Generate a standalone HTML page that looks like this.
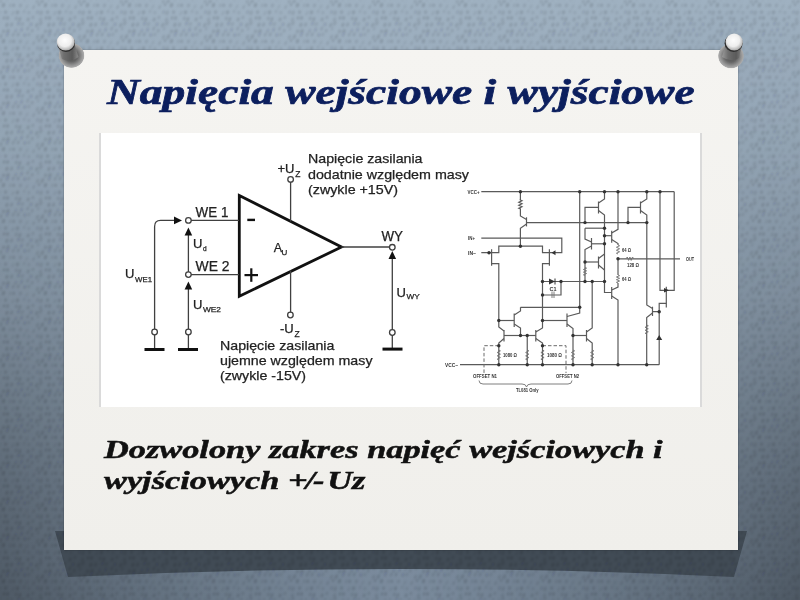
<!DOCTYPE html>
<html><head><meta charset="utf-8">
<style>
html,body{margin:0;padding:0;width:800px;height:600px;overflow:hidden;}
body{position:relative;background:linear-gradient(to bottom,rgb(159,177,193),rgb(122,139,157));font-family:"Liberation Sans",sans-serif;}
.abs{position:absolute;}
#shadow{left:0;top:0;}
#paper{left:64px;top:50px;width:674px;height:500px;background:linear-gradient(to bottom,#f5f4f1,#f0efeb);box-shadow:0 0 1.5px rgba(0,0,0,0.4);}
#img{left:99px;top:133px;width:603px;height:274px;background:#fff;box-sizing:border-box;border-left:2px solid #dadada;border-right:2px solid #dadada;}
#title{left:107px;top:73px;font-family:"Liberation Serif",serif;font-weight:bold;font-style:italic;font-size:35px;color:#0c1f5e;-webkit-text-stroke:0.7px #0c1f5e;white-space:nowrap;transform:scaleX(1.3);transform-origin:0 0;}
#body{left:104px;top:434px;font-family:"Liberation Serif",serif;font-weight:bold;font-style:italic;font-size:26px;line-height:31px;color:#111;-webkit-text-stroke:0.5px #111;white-space:nowrap;transform:scaleX(1.32);transform-origin:0 0;}
#dg{left:0;top:0;filter:blur(0.5px);}
</style></head><body>
<div class="abs" style="left:0;top:0;width:800px;height:600px;background:linear-gradient(to right,rgba(0,0,0,0.36) 0px,rgba(0,0,0,0.248) 100px,rgba(0,0,0,0.146) 200px,rgba(0,0,0,0.059) 300px,rgba(0,0,0,0) 400px,rgba(0,0,0,0.059) 500px,rgba(0,0,0,0.146) 600px,rgba(0,0,0,0.248) 700px,rgba(0,0,0,0.36) 800px);-webkit-mask-image:linear-gradient(to bottom,rgba(0,0,0,0) 0px,rgba(0,0,0,0.08) 150px,rgba(0,0,0,0.31) 300px,rgba(0,0,0,0.7) 450px,#000 600px);"></div>
<svg class="abs" id="shadow" width="800" height="600"><path d="M55,531 L747,531 L734,577 Q400,561 68,577 Z" fill="#414b55"/></svg>
<svg class="abs" style="left:0;top:0" width="800" height="600"><defs><pattern id="dp" width="42" height="36" patternUnits="userSpaceOnUse"><g fill="#0a1420"><ellipse cx="0.4" cy="0.7" rx="1.5" ry="2.6" transform="rotate(25 0.4 0.7)" fill-opacity="0.12"/><ellipse cx="0.4" cy="36.7" rx="1.5" ry="2.6" transform="rotate(25 0.4 36.7)" fill-opacity="0.12"/><ellipse cx="42.4" cy="0.7" rx="1.5" ry="2.6" transform="rotate(25 42.4 0.7)" fill-opacity="0.12"/><ellipse cx="42.4" cy="36.7" rx="1.5" ry="2.6" transform="rotate(25 42.4 36.7)" fill-opacity="0.12"/><ellipse cx="7.3" cy="-1.4" rx="1.3" ry="2.6" transform="rotate(25 7.3 -1.4)" fill-opacity="0.11"/><ellipse cx="7.3" cy="34.6" rx="1.3" ry="2.6" transform="rotate(25 7.3 34.6)" fill-opacity="0.11"/><ellipse cx="13.2" cy="-1.2" rx="1.3" ry="2.0" transform="rotate(25 13.2 -1.2)" fill-opacity="0.10"/><ellipse cx="13.2" cy="34.8" rx="1.3" ry="2.0" transform="rotate(25 13.2 34.8)" fill-opacity="0.10"/><ellipse cx="18.2" cy="-1.5" rx="1.1" ry="2.0" transform="rotate(25 18.2 -1.5)" fill-opacity="0.13"/><ellipse cx="18.2" cy="34.5" rx="1.1" ry="2.0" transform="rotate(25 18.2 34.5)" fill-opacity="0.13"/><ellipse cx="24.8" cy="-1.0" rx="1.5" ry="1.9" transform="rotate(25 24.8 -1.0)" fill-opacity="0.11"/><ellipse cx="24.8" cy="35.0" rx="1.5" ry="1.9" transform="rotate(25 24.8 35.0)" fill-opacity="0.11"/><ellipse cx="28.9" cy="-1.5" rx="1.5" ry="2.0" transform="rotate(25 28.9 -1.5)" fill-opacity="0.08"/><ellipse cx="28.9" cy="34.5" rx="1.5" ry="2.0" transform="rotate(25 28.9 34.5)" fill-opacity="0.08"/><ellipse cx="37.4" cy="1.1" rx="1.2" ry="2.6" transform="rotate(25 37.4 1.1)" fill-opacity="0.10"/><ellipse cx="37.4" cy="37.1" rx="1.2" ry="2.6" transform="rotate(25 37.4 37.1)" fill-opacity="0.10"/><ellipse cx="3.5" cy="5.1" rx="1.6" ry="2.4" transform="rotate(25 3.5 5.1)" fill-opacity="0.14"/><ellipse cx="45.5" cy="5.1" rx="1.6" ry="2.4" transform="rotate(25 45.5 5.1)" fill-opacity="0.14"/><ellipse cx="10.2" cy="5.4" rx="1.2" ry="1.9" transform="rotate(25 10.2 5.4)" fill-opacity="0.08"/><ellipse cx="13.7" cy="5.4" rx="1.4" ry="1.8" transform="rotate(25 13.7 5.4)" fill-opacity="0.12"/><ellipse cx="20.5" cy="5.4" rx="1.5" ry="2.2" transform="rotate(25 20.5 5.4)" fill-opacity="0.09"/><ellipse cx="26.9" cy="6.6" rx="1.0" ry="2.6" transform="rotate(25 26.9 6.6)" fill-opacity="0.07"/><ellipse cx="33.7" cy="7.0" rx="1.0" ry="2.4" transform="rotate(25 33.7 7.0)" fill-opacity="0.10"/><ellipse cx="39.2" cy="4.5" rx="1.0" ry="1.9" transform="rotate(25 39.2 4.5)" fill-opacity="0.14"/><ellipse cx="-2.8" cy="4.5" rx="1.0" ry="1.9" transform="rotate(25 -2.8 4.5)" fill-opacity="0.14"/><ellipse cx="-0.9" cy="12.8" rx="1.6" ry="2.6" transform="rotate(25 -0.9 12.8)" fill-opacity="0.09"/><ellipse cx="41.1" cy="12.8" rx="1.6" ry="2.6" transform="rotate(25 41.1 12.8)" fill-opacity="0.09"/><ellipse cx="5.6" cy="12.1" rx="1.5" ry="1.9" transform="rotate(25 5.6 12.1)" fill-opacity="0.12"/><ellipse cx="12.9" cy="13.1" rx="1.0" ry="2.6" transform="rotate(25 12.9 13.1)" fill-opacity="0.08"/><ellipse cx="17.5" cy="12.3" rx="1.6" ry="2.1" transform="rotate(25 17.5 12.3)" fill-opacity="0.13"/><ellipse cx="24.1" cy="11.4" rx="1.2" ry="1.9" transform="rotate(25 24.1 11.4)" fill-opacity="0.08"/><ellipse cx="28.9" cy="12.6" rx="1.6" ry="1.9" transform="rotate(25 28.9 12.6)" fill-opacity="0.07"/><ellipse cx="37.5" cy="12.1" rx="1.2" ry="2.0" transform="rotate(25 37.5 12.1)" fill-opacity="0.11"/><ellipse cx="4.0" cy="17.9" rx="1.3" ry="1.8" transform="rotate(25 4.0 17.9)" fill-opacity="0.13"/><ellipse cx="46.0" cy="17.9" rx="1.3" ry="1.8" transform="rotate(25 46.0 17.9)" fill-opacity="0.13"/><ellipse cx="7.6" cy="18.0" rx="1.5" ry="1.9" transform="rotate(25 7.6 18.0)" fill-opacity="0.12"/><ellipse cx="16.3" cy="18.4" rx="1.5" ry="1.9" transform="rotate(25 16.3 18.4)" fill-opacity="0.10"/><ellipse cx="19.9" cy="19.0" rx="1.2" ry="2.2" transform="rotate(25 19.9 19.0)" fill-opacity="0.14"/><ellipse cx="28.1" cy="19.4" rx="1.3" ry="2.2" transform="rotate(25 28.1 19.4)" fill-opacity="0.12"/><ellipse cx="32.9" cy="17.4" rx="1.2" ry="1.9" transform="rotate(25 32.9 17.4)" fill-opacity="0.10"/><ellipse cx="40.5" cy="19.4" rx="1.4" ry="2.2" transform="rotate(25 40.5 19.4)" fill-opacity="0.09"/><ellipse cx="-1.5" cy="19.4" rx="1.4" ry="2.2" transform="rotate(25 -1.5 19.4)" fill-opacity="0.09"/><ellipse cx="-1.2" cy="23.3" rx="1.5" ry="2.5" transform="rotate(25 -1.2 23.3)" fill-opacity="0.10"/><ellipse cx="40.8" cy="23.3" rx="1.5" ry="2.5" transform="rotate(25 40.8 23.3)" fill-opacity="0.10"/><ellipse cx="6.9" cy="24.8" rx="1.4" ry="2.3" transform="rotate(25 6.9 24.8)" fill-opacity="0.13"/><ellipse cx="11.6" cy="24.6" rx="1.2" ry="2.2" transform="rotate(25 11.6 24.6)" fill-opacity="0.13"/><ellipse cx="18.6" cy="23.4" rx="1.6" ry="2.3" transform="rotate(25 18.6 23.4)" fill-opacity="0.11"/><ellipse cx="22.5" cy="24.1" rx="1.2" ry="2.3" transform="rotate(25 22.5 24.1)" fill-opacity="0.10"/><ellipse cx="31.0" cy="24.4" rx="1.5" ry="2.1" transform="rotate(25 31.0 24.4)" fill-opacity="0.11"/><ellipse cx="36.7" cy="25.0" rx="1.2" ry="2.5" transform="rotate(25 36.7 25.0)" fill-opacity="0.13"/><ellipse cx="3.6" cy="31.4" rx="1.6" ry="2.2" transform="rotate(25 3.6 31.4)" fill-opacity="0.10"/><ellipse cx="45.6" cy="31.4" rx="1.6" ry="2.2" transform="rotate(25 45.6 31.4)" fill-opacity="0.10"/><ellipse cx="8.0" cy="31.0" rx="1.6" ry="2.2" transform="rotate(25 8.0 31.0)" fill-opacity="0.12"/><ellipse cx="15.7" cy="30.7" rx="1.1" ry="2.4" transform="rotate(25 15.7 30.7)" fill-opacity="0.11"/><ellipse cx="21.5" cy="29.8" rx="1.4" ry="2.4" transform="rotate(25 21.5 29.8)" fill-opacity="0.11"/><ellipse cx="27.7" cy="28.6" rx="1.1" ry="2.2" transform="rotate(25 27.7 28.6)" fill-opacity="0.12"/><ellipse cx="32.2" cy="30.6" rx="1.4" ry="1.8" transform="rotate(25 32.2 30.6)" fill-opacity="0.10"/><ellipse cx="38.2" cy="28.7" rx="1.1" ry="2.1" transform="rotate(25 38.2 28.7)" fill-opacity="0.08"/><ellipse cx="-3.8" cy="28.7" rx="1.1" ry="2.1" transform="rotate(25 -3.8 28.7)" fill-opacity="0.08"/></g></pattern><filter id="dpb" x="0" y="0" width="100%" height="100%"><feGaussianBlur stdDeviation="1"/></filter></defs><rect width="800" height="600" fill="url(#dp)" filter="url(#dpb)"/></svg>
<div class="abs" id="paper"></div>
<div class="abs" id="img"></div>
<svg class="abs" style="left:0;top:0" width="800" height="600">
<defs>
<radialGradient id="pb" cx="0.5" cy="0.5" r="0.5"><stop offset="0" stop-color="#4a4a4a"/><stop offset="0.5" stop-color="#666"/><stop offset="0.8" stop-color="#959595"/><stop offset="0.95" stop-color="#aaa"/><stop offset="1" stop-color="#aaa" stop-opacity="0.2"/></radialGradient>
<linearGradient id="pc" x1="0" y1="0" x2="1" y2="0"><stop offset="0" stop-color="#9a9a9a"/><stop offset="0.3" stop-color="#6e6e6e"/><stop offset="0.7" stop-color="#5a5a5a"/><stop offset="1" stop-color="#8a8a8a"/></linearGradient>
<radialGradient id="ph" cx="0.45" cy="0.4" r="0.6"><stop offset="0" stop-color="#fdfdfd"/><stop offset="0.6" stop-color="#eee"/><stop offset="1" stop-color="#aaa"/></radialGradient>
<filter id="pbl" x="-20%" y="-20%" width="140%" height="140%"><feGaussianBlur stdDeviation="0.6"/></filter>
<filter id="pbl2" x="-30%" y="-30%" width="160%" height="160%"><feGaussianBlur stdDeviation="0.5"/></filter>
</defs>
<g filter="url(#pbl)">
 <ellipse cx="71.5" cy="55.5" rx="13" ry="12.5" fill="url(#pb)" filter="url(#pbl2)"/>
 <path d="M57.5,44 L74.5,44 L78.5,57 Q71,63 62,59 Z" fill="url(#pc)"/>
 <ellipse cx="66" cy="43.2" rx="9" ry="8.7" fill="#2f2f2f"/>
 <ellipse cx="65.7" cy="42" rx="9" ry="8.6" fill="url(#ph)"/>
</g>
<g filter="url(#pbl)">
 <ellipse cx="731" cy="56" rx="13" ry="12.5" fill="url(#pb)" filter="url(#pbl2)"/>
 <path d="M725.5,44 L742.5,44 L739,58 Q731,63 722,57 Z" fill="url(#pc)"/>
 <ellipse cx="733.6" cy="43.2" rx="9" ry="8.7" fill="#2f2f2f"/>
 <ellipse cx="734.2" cy="42" rx="8.6" ry="8.6" fill="url(#ph)"/>
</g>
</svg>
<div class="abs" id="title">Napięcia wejściowe i wyjściowe</div>
<div class="abs" id="body">Dozwolony zakres napięć wejściowych i<br>wyjściowych <span style="letter-spacing:-1.5px">+/-</span><span style="margin-left:-3px"> Uz</span></div>
<svg class="abs" id="dg" width="800" height="600" viewBox="0 0 800 600">
<g fill="none" stroke="#404040" stroke-width="1.3">
 <!-- triangle -->
 <path d="M239.3,195.5 L341.5,247 L239.3,296.3 Z" stroke="#111" stroke-width="2.8" stroke-linejoin="miter"/>
 <!-- inputs -->
 <path d="M191,220.4 H239"/>
 <path d="M191,274.6 H239"/>
 <circle cx="188.4" cy="220.4" r="2.8"/>
 <circle cx="188.4" cy="274.6" r="2.8"/>
 <!-- UWE1 loop -->
 <path d="M154.6,329 V226.4 Q154.6,220.4 160.6,220.4 H176"/>
 <circle cx="154.6" cy="332" r="2.8"/>
 <path d="M154.6,334.6 V349"/>
 <!-- Ud -->
 <path d="M188.4,272 V234"/>
 <!-- UWE2 -->
 <path d="M188.4,329 V288"/>
 <circle cx="188.4" cy="332" r="2.8"/>
 <path d="M188.4,334.6 V349"/>
 <!-- supply -->
 <path d="M290.6,182 V221.5"/>
 <circle cx="290.6" cy="179.4" r="2.8"/>
 <path d="M290.6,270.5 V312.4"/>
 <circle cx="290.4" cy="315" r="2.8"/>
 <!-- output -->
 <path d="M341.5,247 H389.7"/>
 <circle cx="392.3" cy="247.3" r="2.8"/>
 <path d="M392.3,329.9 V258"/>
 <circle cx="392.3" cy="332.5" r="2.8"/>
 <path d="M392.3,335 V349"/>
</g>
<g fill="#111" stroke="none">
 <path d="M174,216.6 L182,220.4 L174,224.2 Z"/>
 <path d="M184.6,235.5 L188.4,227.5 L192.2,235.5 Z"/>
 <path d="M184.6,289.5 L188.4,281.5 L192.2,289.5 Z"/>
 <path d="M388.5,259 L392.3,251 L396.1,259 Z"/>
 <rect x="144.5" y="348" width="20" height="3"/>
 <rect x="178" y="348" width="20" height="3"/>
 <rect x="382.5" y="347.6" width="20" height="3"/>
 <rect x="247.3" y="218.7" width="7.7" height="2.4"/>
 <rect x="244.5" y="274" width="13.5" height="2.2"/>
 <rect x="250.2" y="268.3" width="2.2" height="13.5"/>
</g>
<g fill="#222" stroke="#222" stroke-width="0.25" font-family="Liberation Sans" font-size="13">
 <text x="308" y="162.5" textLength="114.5" lengthAdjust="spacingAndGlyphs">Napięcie zasilania</text>
 <text x="308" y="178.5" textLength="161" lengthAdjust="spacingAndGlyphs">dodatnie względem masy</text>
 <text x="308" y="194.4" textLength="90" lengthAdjust="spacingAndGlyphs">(zwykle +15V)</text>
 <text x="220" y="349.6" textLength="114.4" lengthAdjust="spacingAndGlyphs">Napięcie zasilania</text>
 <text x="220" y="365" textLength="152.5" lengthAdjust="spacingAndGlyphs">ujemne względem masy</text>
 <text x="220" y="380" textLength="86" lengthAdjust="spacingAndGlyphs">(zwykle -15V)</text>
 <text x="195.6" y="217" font-size="14" textLength="32.8" lengthAdjust="spacingAndGlyphs">WE 1</text>
 <text x="195.6" y="271.2" font-size="14" textLength="34" lengthAdjust="spacingAndGlyphs">WE 2</text>
 <text x="381.5" y="241.2" font-size="14" textLength="21.5" lengthAdjust="spacingAndGlyphs">WY</text>
 <text x="277.5" y="173" font-size="13">+U</text>
 <text x="295.3" y="176.5" font-size="8.5">Z</text>
 <text x="280" y="332.6" font-size="13">-U</text>
 <text x="294.5" y="336.5" font-size="8.5">Z</text>
 <text x="273.7" y="251.7" font-size="12.5">A</text>
 <text x="281.5" y="254.5" font-size="8">U</text>
 <text x="193" y="248" font-size="13">U</text>
 <text x="203" y="250.5" font-size="6.5">d</text>
 <text x="125" y="278" font-size="13">U</text>
 <text x="135" y="281.5" font-size="8" textLength="17" lengthAdjust="spacingAndGlyphs">WE1</text>
 <text x="193" y="309" font-size="13">U</text>
 <text x="203" y="311.5" font-size="8" textLength="18" lengthAdjust="spacingAndGlyphs">WE2</text>
 <text x="396.5" y="296.5" font-size="13">U</text>
 <text x="406.5" y="299" font-size="8" textLength="13.3" lengthAdjust="spacingAndGlyphs">WY</text>
</g>
<g fill="none" stroke="#5a5a5a" stroke-width="1.2">
<path d="M481.3,191.7H674.3"/>
<path d="M460,364.7H659.2"/>
<path d="M520.4,191.7V200"/>
<path d="M520.4,199V200L522.0,200.75L518.8,202.25L522.0,203.75L518.8,205.25L522.0,206.75L518.8,208.25L520.4,209V210"/>
<path d="M520.4,210V216L526.5,219.5"/>
<path d="M526.5,217.3V226.4"/>
<path d="M526.5,224L520.4,228.3V246.2"/>
<path d="M526.5,222.6H646.8"/>
<path d="M481.3,238.1H561.8V252.7H542.5V246.2H498.8V252.7H481.3"/>
<path d="M491.6,249.3V265.8"/>
<path d="M491.6,263.7H498.8V320.5V327L504,331"/>
<path d="M549.4,249.3V265.8"/>
<path d="M549.4,263.7H542.5V328L535.8,332"/>
<path d="M542.5,281.5H604.5"/>
<path d="M561,281.5V295H542.5"/>
<path d="M579.7,191.7V313L567,316.5"/>
<path d="M567,313.5V327"/>
<path d="M567,324L573,328.5V364.7"/>
<path d="M520.5,307.3H579.7"/>
<path d="M520.5,307.3V311L514.2,315"/>
<path d="M514.2,313.5V327"/>
<path d="M514.2,324L520.5,328V335.5"/>
<path d="M498.8,320.5H514.2"/>
<path d="M504,330V341.5"/>
<path d="M504,338.5L498.8,343V364.7"/>
<path d="M504,335.5H535.8"/>
<path d="M535.8,330V341.5"/>
<path d="M535.8,338.5L542.5,343V364.7"/>
<path d="M527.25,335.5V364.7"/>
<path d="M542.5,320.5H567"/>
<path d="M573,335.5H586.5"/>
<path d="M586.5,330V341.5"/>
<path d="M586.5,332L592.2,328V281.5"/>
<path d="M586.5,338.5L592.2,343V364.7"/>
<path d="M604.5,191.7V199L598.5,203"/>
<path d="M598.5,201.5V213.5"/>
<path d="M598.5,210.5L604.5,215V292.5H611.7"/>
<path d="M598.5,207.3H585V222.6"/>
<path d="M585,228.2H604.5"/>
<path d="M585,228.2V239L591.5,242"/>
<path d="M591.5,238V249.5"/>
<path d="M591.5,246L585,249.5V281.5"/>
<path d="M591.5,243.8H604.5"/>
<path d="M585,262H598.5"/>
<path d="M598.5,256.5V268.5"/>
<path d="M598.5,258.5L604.5,254"/>
<path d="M598.5,265L604.5,270"/>
<path d="M618,191.7V229.3L611.7,233"/>
<path d="M611.7,230.7V242.7"/>
<path d="M611.7,239.5L618,243.5V245"/>
<path d="M604.5,235.7H611.7"/>
<path d="M618,258.8V275"/>
<path d="M618,283V287L611.7,290"/>
<path d="M611.7,287V299"/>
<path d="M611.7,296L618,300V364.7"/>
<path d="M618,258.8H680"/>
<path d="M646.8,191.7V199L640.5,203"/>
<path d="M640.5,201.5V213.5"/>
<path d="M640.5,210.5L646.8,215V305L652.5,308.5"/>
<path d="M640.5,207.3H628V222.6"/>
<path d="M652.5,306.7V316"/>
<path d="M652.5,313L646.7,317.5V364.7"/>
<path d="M652.5,311.7H659.2V364.7"/>
<path d="M659.2,311.7V303.3H666.3"/>
<path d="M666.3,286.7V307.5"/>
<path d="M660,191.7V290.3H674.2V191.7"/>
</g>
<g fill="none" stroke="#707070" stroke-width="0.9">
<path d="M618,245L619.6,245.75L616.4,247.25L619.6,248.75L616.4,250.25L619.6,251.75L616.4,253.25L618,254"/>
<path d="M618,275L619.6,275.66666666666663L616.4,276.99999999999994L619.6,278.33333333333326L616.4,279.6666666666666L619.6,280.9999999999999L616.4,282.3333333333332L618,283"/>
<path d="M585,267.5L586.6,268.16666666666663L583.4,269.49999999999994L586.6,270.83333333333326L583.4,272.1666666666666L586.6,273.4999999999999L583.4,274.8333333333332L585,275.5"/>
<path d="M498.8,350L500.40000000000003,350.83333333333337L497.2,352.50000000000006L500.40000000000003,354.16666666666674L497.2,355.8333333333334L500.40000000000003,357.5000000000001L497.2,359.1666666666668L498.8,360"/>
<path d="M527.25,350L528.85,350.83333333333337L525.65,352.50000000000006L528.85,354.16666666666674L525.65,355.8333333333334L528.85,357.5000000000001L525.65,359.1666666666668L527.25,360"/>
<path d="M542.5,350L544.1,350.83333333333337L540.9,352.50000000000006L544.1,354.16666666666674L540.9,355.8333333333334L544.1,357.5000000000001L540.9,359.1666666666668L542.5,360"/>
<path d="M573,350L574.6,350.83333333333337L571.4,352.50000000000006L574.6,354.16666666666674L571.4,355.8333333333334L574.6,357.5000000000001L571.4,359.1666666666668L573,360"/>
<path d="M592.2,350L593.8000000000001,350.83333333333337L590.6,352.50000000000006L593.8000000000001,354.16666666666674L590.6,355.8333333333334L593.8000000000001,357.5000000000001L590.6,359.1666666666668L592.2,360"/>
<path d="M646.7,325L648.3000000000001,325.75L645.1,327.25L648.3000000000001,328.75L645.1,330.25L648.3000000000001,331.75L645.1,333.25L646.7,334"/>
<path d="M626,258.7 L627.3,257 L628.6,260.4 L629.9,257 L631.2,260.4 L632.5,257 L633.8,258.7"/>
<path d="M552,291.5V298M554,291.5V298"/>
<path d="M498.8,345.7H484V373M542.5,345.7H566V373" stroke="#6a6a6a" stroke-width="1" stroke-dasharray="3.5,2"/>
<path d="M479,380.5Q479,384 483,384H522Q526,384 526.5,387Q527,384 531,384H568Q572,384 572,380.5"/>
</g>
<g fill="#333" stroke="none">
<circle cx="520.4" cy="191.7" r="1.7"/>
<circle cx="579.7" cy="191.7" r="1.7"/>
<circle cx="604.5" cy="191.7" r="1.7"/>
<circle cx="618" cy="191.7" r="1.7"/>
<circle cx="646.8" cy="191.7" r="1.7"/>
<circle cx="660" cy="191.7" r="1.7"/>
<circle cx="520.4" cy="246.2" r="1.7"/>
<circle cx="585" cy="222.6" r="1.7"/>
<circle cx="628" cy="222.6" r="1.7"/>
<circle cx="646.8" cy="222.6" r="1.7"/>
<circle cx="604.5" cy="228.2" r="1.7"/>
<circle cx="604.5" cy="235.7" r="1.7"/>
<circle cx="604.5" cy="243.8" r="1.7"/>
<circle cx="585" cy="262" r="1.7"/>
<circle cx="585" cy="281.5" r="1.7"/>
<circle cx="592.2" cy="281.5" r="1.7"/>
<circle cx="604.5" cy="281.5" r="1.7"/>
<circle cx="618" cy="258.8" r="1.7"/>
<circle cx="542.5" cy="281.5" r="1.7"/>
<circle cx="561" cy="281.5" r="1.7"/>
<circle cx="542.5" cy="295" r="1.7"/>
<circle cx="579.7" cy="307.3" r="1.7"/>
<circle cx="498.8" cy="320.5" r="1.7"/>
<circle cx="542.5" cy="320.5" r="1.7"/>
<circle cx="520.5" cy="335.5" r="1.7"/>
<circle cx="527.25" cy="335.5" r="1.7"/>
<circle cx="573" cy="335.5" r="1.7"/>
<circle cx="498.8" cy="345.7" r="1.7"/>
<circle cx="542.5" cy="345.7" r="1.7"/>
<circle cx="659.2" cy="311.7" r="1.7"/>
<circle cx="498.8" cy="364.7" r="1.7"/>
<circle cx="527.25" cy="364.7" r="1.7"/>
<circle cx="542.5" cy="364.7" r="1.7"/>
<circle cx="573" cy="364.7" r="1.7"/>
<circle cx="592.2" cy="364.7" r="1.7"/>
<circle cx="618" cy="364.7" r="1.7"/>
<circle cx="646.7" cy="364.7" r="1.7"/>
<circle cx="489" cy="252.7" r="1.7"/>
<path d="M549,278.5L555,281.5L549,284.5Z"/><path d="M555,278.5V284.5" stroke="#333" stroke-width="1"/>
<path d="M656.2,340L659.2,335L662.2,340Z"/><path d="M656.2,335V335" />
<path d="M555.5,250.2L551.5,252.7L555.5,255.2Z"/>
<path d="M664,288L669,290.3L664,292.6Z"/>
</g>
<g fill="#333" font-family="Liberation Sans" font-size="5.5" font-weight="bold">
<text x="467.5" y="194" textLength="12" lengthAdjust="spacingAndGlyphs">VCC+</text>
<text x="468" y="240" textLength="7" lengthAdjust="spacingAndGlyphs">IN+</text>
<text x="468" y="255" textLength="8" lengthAdjust="spacingAndGlyphs">IN−</text>
<text x="445" y="367" textLength="13" lengthAdjust="spacingAndGlyphs">VCC−</text>
<text x="686" y="261" textLength="8" lengthAdjust="spacingAndGlyphs">OUT</text>
<text x="622" y="252" textLength="9" lengthAdjust="spacingAndGlyphs">64 Ω</text>
<text x="622" y="281" textLength="9" lengthAdjust="spacingAndGlyphs">64 Ω</text>
<text x="627" y="267" textLength="12" lengthAdjust="spacingAndGlyphs">128 Ω</text>
<text x="549.5" y="290.5" textLength="7" lengthAdjust="spacingAndGlyphs">C1</text>
<text x="503" y="357" textLength="14" lengthAdjust="spacingAndGlyphs">1080 Ω</text>
<text x="547" y="357" textLength="15" lengthAdjust="spacingAndGlyphs">1080 Ω</text>
<text x="473" y="377.5" textLength="24" lengthAdjust="spacingAndGlyphs">OFFSET N1</text>
<text x="556" y="377.5" textLength="23" lengthAdjust="spacingAndGlyphs">OFFSET N2</text>
<text x="516" y="392" textLength="22.6" lengthAdjust="spacingAndGlyphs">TL081 Only</text>
</g>
</svg>
</body></html>
